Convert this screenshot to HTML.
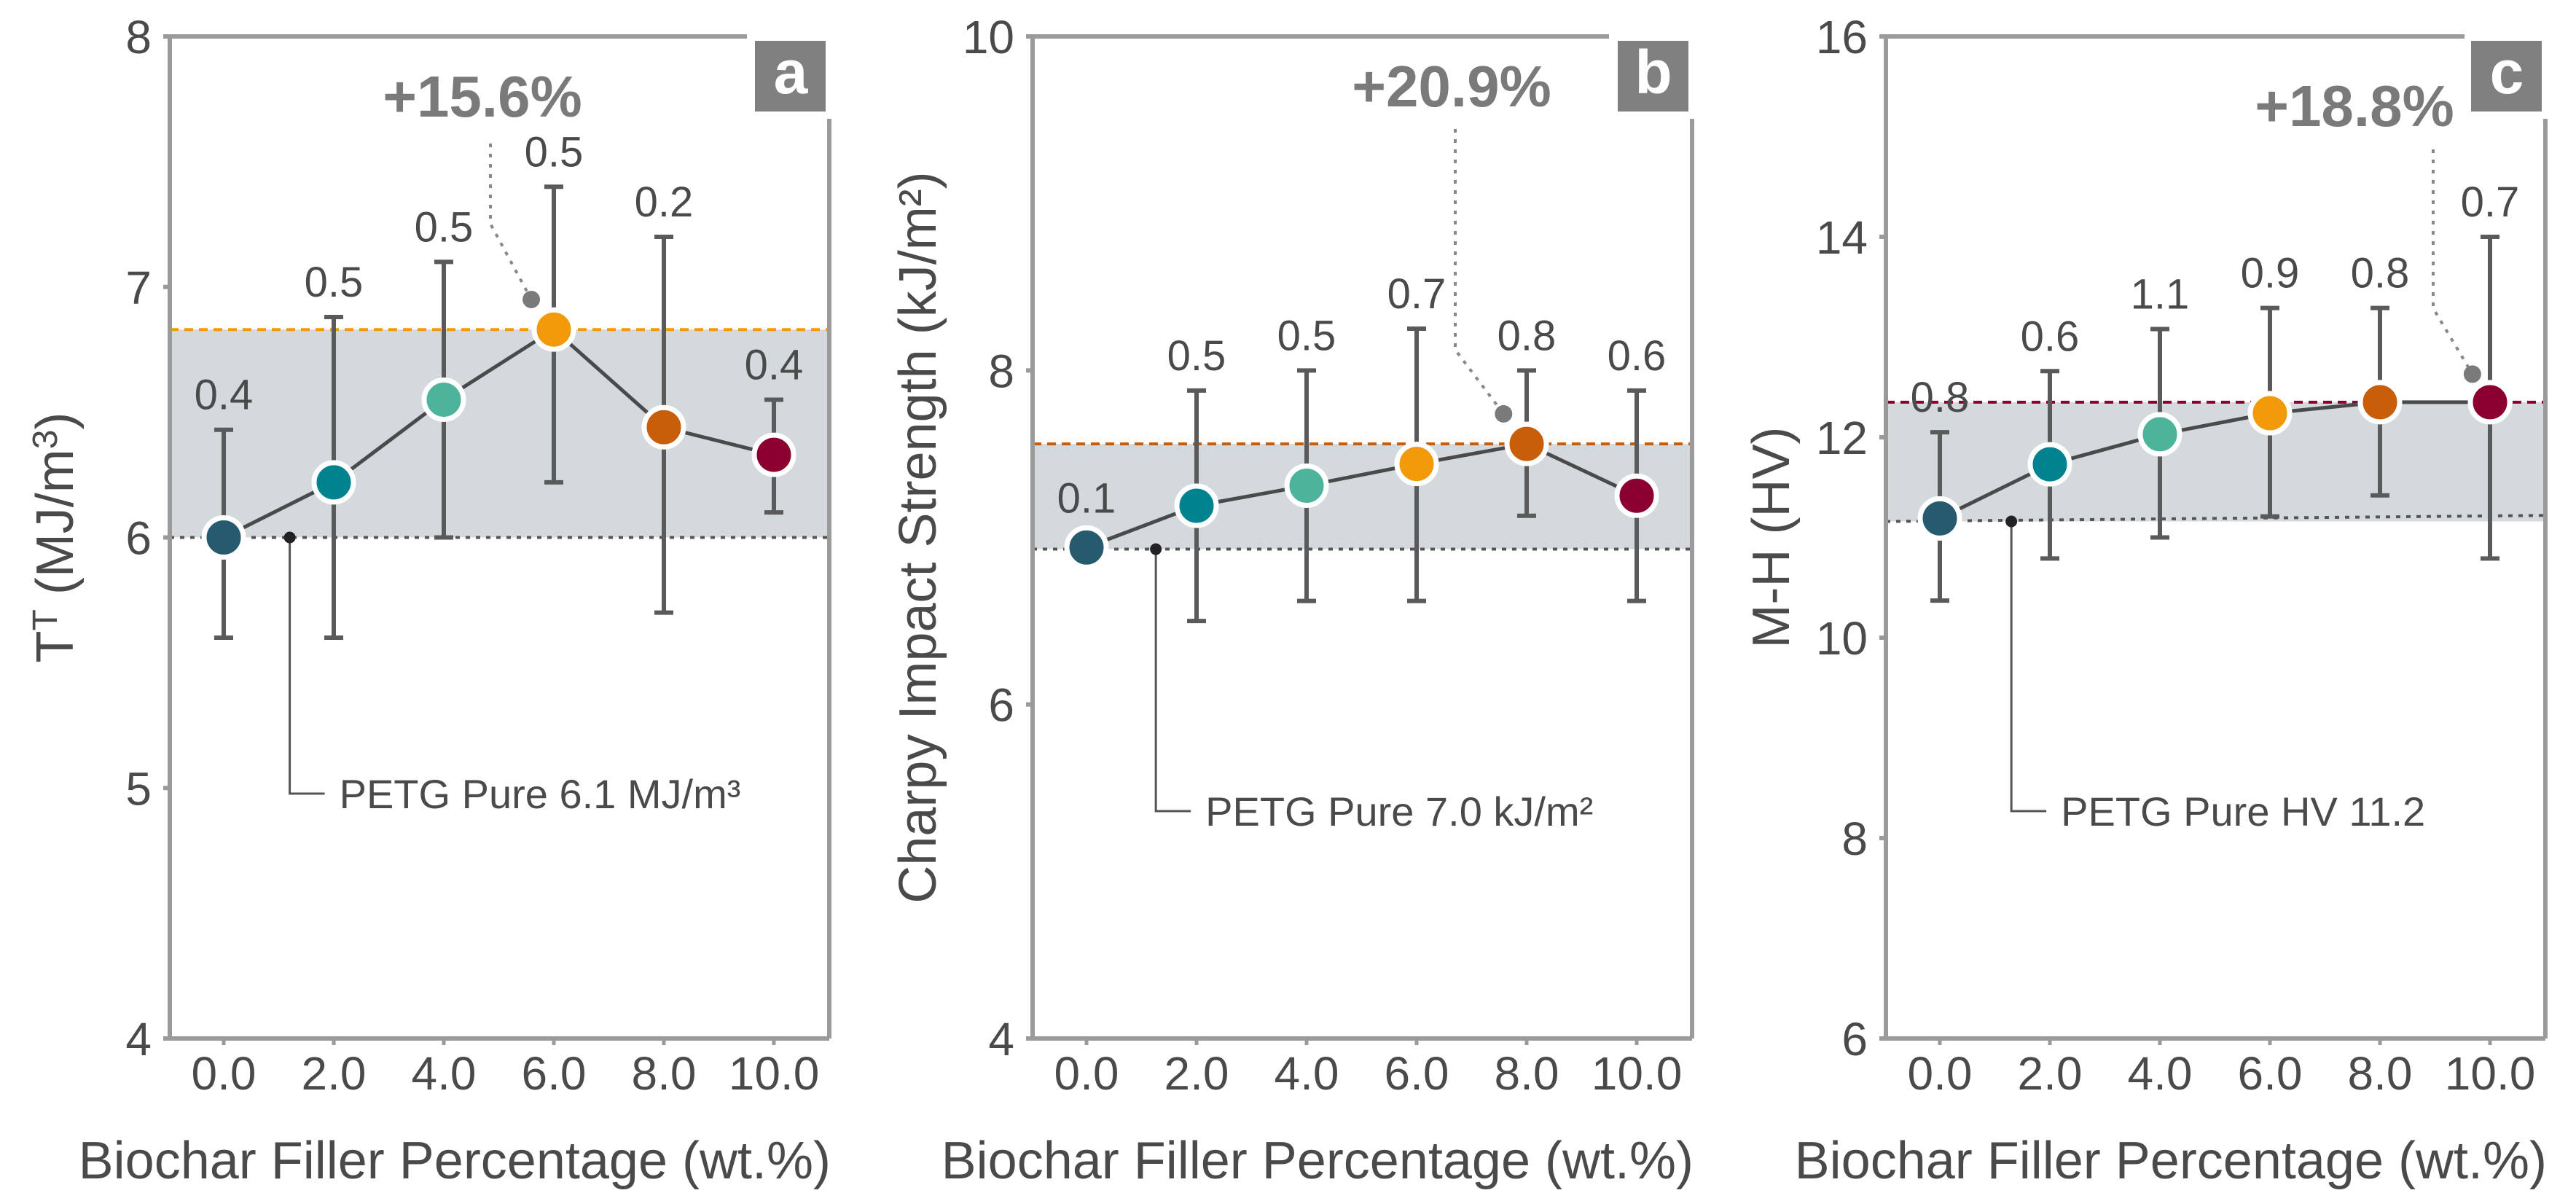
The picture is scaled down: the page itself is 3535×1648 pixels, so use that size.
<!DOCTYPE html>
<html><head><meta charset="utf-8"><style>
html,body{margin:0;padding:0;background:#fff}
svg{display:block}
text{font-family:"Liberation Sans",sans-serif;fill:#4a4a4a}
</style></head><body>
<svg id="fig" width="3535" height="1648" viewBox="0 0 3535 1648" xmlns="http://www.w3.org/2000/svg"></svg>
<script>
const categories = [0, 2, 4, 6, 8, 10];
const categoryLabels = ["0.0","2.0","4.0","6.0","8.0","10.0"];
const pointColors = ["#265a6e","#00828f","#4db39b","#f29a0a","#c85d0a","#8b0030"];

const aValues = [6.0, 6.22, 6.55, 6.83, 6.44, 6.33];
const aErrLow = [5.6, 5.6, 6.0, 6.22, 5.7, 6.1];
const aErrHigh = [6.43, 6.88, 7.1, 7.4, 7.2, 6.55];
const aErrLabels = ["0.4","0.5","0.5","0.5","0.2","0.4"];
const aTicks = [4,5,6,7,8];

const bValues = [6.94, 7.19, 7.31, 7.44, 7.56, 7.25];
const bErrLow = [6.94, 6.5, 6.62, 6.62, 7.13, 6.62];
const bErrHigh = [6.94, 7.88, 8.0, 8.25, 8.0, 7.88];
const bErrLabels = ["0.1","0.5","0.5","0.7","0.8","0.6"];
const bTicks = [4,6,8,10];

const cValues = [11.19, 11.73, 12.03, 12.24, 12.35, 12.35];
const cErrLow = [10.37, 10.79, 11.0, 11.21, 11.42, 10.79];
const cErrHigh = [12.05, 12.66, 13.08, 13.29, 13.29, 14.0];
const cErrLabels = ["0.8","0.6","1.1","0.9","0.8","0.7"];
const cTicks = [6,8,10,12,14,16];

const svg = document.getElementById('fig');
const NS = 'http://www.w3.org/2000/svg';
function mk(tag, attrs, parent, txt){
  const e = document.createElementNS(NS, tag);
  for (const k in attrs) e.setAttribute(k, attrs[k]);
  if (txt !== undefined) e.textContent = txt;
  (parent||svg).appendChild(e);
  return e;
}

const TOP = 50, BOTTOM = 1425;

function panel(p){
  const g = mk('g', {});
  
  
  const L = p.left, R = p.left + 905;
  const xs = v => L + 74 + v * 75.5;
  const ys = v => TOP + (p.ymax - v) / (p.ymax - p.ymin) * (BOTTOM - TOP);

  const band = mk('rect', {x:L, y:ys(p.values[p.maxIdx]), width:R-L, height:ys(p.base)-ys(p.values[p.maxIdx]), fill:'#d4d9de'}, g);
  
  
  const dl = mk('line', {x1:L, x2:R, y1:ys(p.values[p.maxIdx]), y2:ys(p.values[p.maxIdx]), stroke:pointColors[p.maxIdx], 'stroke-width':4, 'stroke-dasharray':'12 8'}, g);
  
  
  const bl = mk('line', {x1:L, x2:R, y1:ys(p.base), y2:ys(p.baseR), stroke:'#555', 'stroke-width':4, 'stroke-dasharray':'6 8'}, g);
  
  

  const ax = mk('path', {d:`M${L} ${TOP} V${BOTTOM} H${R} M${L-8} ${TOP} H${p.topEnd} M${R} ${163} V${BOTTOM}`, stroke:'#9a9a9a', 'stroke-width':6, fill:'none'}, g);
  
  

  p.ticks.forEach(t => {
    const tk = mk('line', {x1:L-9, x2:L, y1:ys(t), y2:ys(t), stroke:'#9a9a9a', 'stroke-width':6}, g);
    
    
    const tl = mk('text', {x:L-25, y:ys(t)+23, 'text-anchor':'end', 'font-size':64}, g, String(t));
    
    
  });
  categories.forEach((c,i) => {
    const tk = mk('line', {x1:xs(c), x2:xs(c), y1:BOTTOM, y2:BOTTOM+9, stroke:'#9a9a9a', 'stroke-width':5}, g);
    
    
    const tl = mk('text', {x:xs(c), y:BOTTOM+70, 'text-anchor':'middle', 'font-size':64}, g, categoryLabels[i]);
    
    
  });

  const xt = mk('text', {x:R+2, y:1617, 'text-anchor':'end', 'font-size':72}, g, 'Biochar Filler Percentage (wt.%)');
  
  
  const yt = mk('text', {x:0, y:0, 'text-anchor':'middle', 'font-size':72, transform:`translate(${L-133} ${(TOP+BOTTOM)/2}) rotate(-90)`}, g);
  yt.innerHTML = p.ytitle;
  
  

  const box = mk('rect', {x:R-102, y:56, width:97, height:97, fill:'#808080'}, g);
  
  
  const lt = mk('text', {x:R-53, y:128, 'text-anchor':'middle', 'font-size':84, 'font-weight':'bold', style:'fill:#fff'}, g, p.letter);
  
  

  categories.forEach((c,i) => {
    if (p.errHigh[i] - p.errLow[i] > 0.05) {
      const eb = mk('path', {d:`M${xs(c)} ${ys(p.errLow[i])} V${ys(p.errHigh[i])} M${xs(c)-13} ${ys(p.errLow[i])} h26 M${xs(c)-13} ${ys(p.errHigh[i])} h26`, stroke:'#5a5a5a', 'stroke-width':6, fill:'none'}, g);
      
      
    }
    const topY = (p.errHigh[i] - p.errLow[i] > 0.05) ? ys(p.errHigh[i]) : ys(p.values[i]) - 20;
    const el = mk('text', {x:xs(c), y:topY-28, 'text-anchor':'middle', 'font-size':58}, g, p.errLabels[i]);
    
    
  });

  const d = categories.map((c,i) => (i?'L':'M') + xs(c) + ' ' + ys(p.values[i])).join(' ');
  const ln = mk('path', {d:d, stroke:'#4a4a4a', 'stroke-width':5, fill:'none'}, g);
  
  

  categories.forEach((c,i) => {
    const pt = mk('circle', {cx:xs(c), cy:ys(p.values[i]), r:27, fill:pointColors[i], stroke:'#fff', 'stroke-width':7}, g);
    
    
  });

  const gx = xs(p.gray[0]), gy = ys(p.gray[1]);
  const an = mk('path', {d:`M${p.annX} ${p.annTop} V${p.annMid} L${gx} ${gy}`, stroke:'#888', 'stroke-width':4, 'stroke-dasharray':'5 9', fill:'none'}, g);
  
  
  const gd = mk('circle', {cx:gx, cy:gy, r:12, fill:'#7a7a7a'}, g);
  
  
  const at = mk('text', {x:p.annTextX, y:p.annTextY, 'text-anchor':'middle', 'font-size':80, 'font-weight':'bold', style:'fill:#7a7a7a'}, g, p.annText);
  
  

  const px = xs(p.petgX), py = ys(p.base);
  const pl = mk('path', {d:`M${px} ${py} V${p.petgY} H${px+48}`, stroke:'#555', 'stroke-width':3, fill:'none'}, g);
  
  
  const pd = mk('circle', {cx:px, cy:py, r:8, fill:'#222'}, g);
  
  
  const pt2 = mk('text', {x:px+68, y:p.petgY+20, 'font-size':56}, g, p.petgText);
  
  
}

panel({letter:'a', left:233, topEnd:1025, ymin:4, ymax:8, ticks:aTicks, values:aValues, errLow:aErrLow, errHigh:aErrHigh, errLabels:aErrLabels,
  maxIdx:3, base:6.0, baseR:6.0, ytitle:'T<tspan dy="-22" font-size="48">T</tspan><tspan dy="22"> (MJ/m</tspan><tspan dy="-22" font-size="48">3</tspan><tspan dy="22">)</tspan>',
  gray:[5.59,6.95], annX:673, annTop:197, annMid:307, annText:'+15.6%', annTextX:662, annTextY:160,
  petgX:1.2, petgY:1089, petgText:'PETG Pure 6.1 MJ/m³'});
panel({letter:'b', left:1417, topEnd:2208, ymin:4, ymax:10, ticks:bTicks, values:bValues, errLow:bErrLow, errHigh:bErrHigh, errLabels:bErrLabels,
  maxIdx:4, base:6.93, baseR:6.93, ytitle:'Charpy Impact Strength (kJ/m²)',
  gray:[7.58,7.74], annX:1997, annTop:177, annMid:480, annText:'+20.9%', annTextX:1992, annTextY:146,
  petgX:1.26, petgY:1113, petgText:'PETG Pure 7.0 kJ/m²'});
panel({letter:'c', left:2588, topEnd:3382, ymin:6, ymax:16, ticks:cTicks, values:cValues, errLow:cErrLow, errHigh:cErrHigh, errLabels:cErrLabels,
  maxIdx:5, base:11.16, baseR:11.22, ytitle:'M-H (HV)',
  gray:[9.68,12.63], annX:3339, annTop:205, annMid:423, annText:'+18.8%', annTextX:3231, annTextY:173,
  petgX:1.3, petgY:1113, petgText:'PETG Pure HV 11.2'});
</script>
</body></html>
